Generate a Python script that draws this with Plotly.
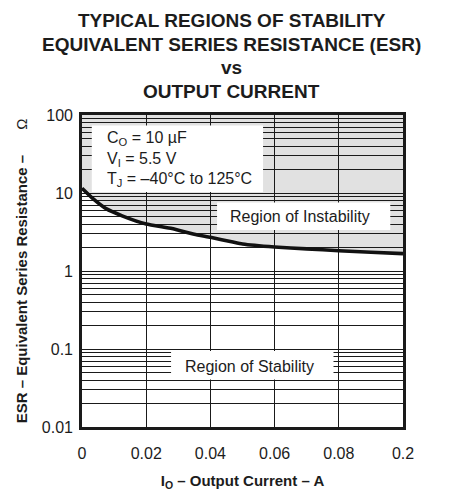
import plotly.graph_objects as go

# ---- data ----
current_a = [0.0, 0.0035, 0.0075, 0.0125, 0.02, 0.028, 0.035, 0.04, 0.047, 0.05,
             0.06, 0.07, 0.08, 0.09, 0.1]
esr_ohm = [11.5, 8.4, 6.3, 5.1, 4.0, 3.5, 2.95, 2.7, 2.35, 2.22,
           2.03, 1.92, 1.82, 1.74, 1.67]
esr_top = 100

x_tickvals = [0, 0.02, 0.04, 0.06, 0.08, 0.1]
x_ticktext = ["0", "0.02", "0.04", "0.06", "0.08", "0.2"]
y_tickvals = [0.01, 0.1, 1, 10, 100]
y_ticktext = ["0.01", "0.1", "1", "10", "100"]
y_minor = [m * 10.0 ** d for d in (-2, -1, 0, 1) for m in range(2, 10)]

title_lines = ["TYPICAL REGIONS OF STABILITY",
               "EQUIVALENT SERIES RESISTANCE (ESR)",
               "vs",
               "OUTPUT CURRENT"]
cond_lines = ["C<sub>O</sub> = 10 µF", "V<sub>I</sub> = 5.5 V",
              "T<sub>J</sub> = –40°C to 125°C"]

FONT = "Liberation Sans, Arial, sans-serif"
INK = "#1c1c1c"

# the page body has an 8px margin, so the figure is drawn 8px in from the corner
OFF = 8
FIG_W, FIG_H = 456 - OFF, 500 - OFF
# plot-area geometry in page pixels
L, R, T, B = 75, 403, 115, 443
W, H = R - L, B - T


def px(x):
    return (x - L) / W


def py(y):
    return (B - y) / H


fig = go.Figure()

# shaded region of instability (below the grid)
path = "M {},{} ".format(current_a[0], esr_top)
path += " ".join("L {},{}".format(x, y) for x, y in zip(current_a, esr_ohm))
path += " L {},{} Z".format(current_a[-1], esr_top)
fig.add_shape(type="path", path=path, xref="x", yref="y", layer="below",
              fillcolor="#e1e1e1", line=dict(width=0))

fig.add_trace(go.Scatter(x=current_a, y=esr_ohm, mode="lines",
                         line=dict(color="#111111", width=3.6, shape="spline", smoothing=0.4),
                         hoverinfo="skip", showlegend=False))

# white text boxes
for x0, x1, y0, y1 in [(85, 260, 126, 196), (213, 390, 207, 236), (166, 332, 363, 393)]:
    fig.add_shape(type="rect", xref="paper", yref="paper",
                  x0=px(x0), x1=px(x1), y0=py(y1), y1=py(y0),
                  fillcolor="white", line=dict(width=0), layer="above")

for txt, yc in zip(cond_lines, [140, 162, 183]):
    fig.add_annotation(text=txt, xref="paper", yref="paper", x=px(98), y=py(yc),
                       xanchor="left", yanchor="middle", showarrow=False,
                       font=dict(family=FONT, size=16, color=INK))

fig.add_annotation(text="Region of Instability", xref="paper", yref="paper",
                   x=px(298), y=py(222), xanchor="center", yanchor="middle",
                   showarrow=False, font=dict(family=FONT, size=16, color=INK))
fig.add_annotation(text="Region of Stability", xref="paper", yref="paper",
                   x=px(246), y=py(379), xanchor="center", yanchor="middle",
                   showarrow=False, font=dict(family=FONT, size=16, color=INK))

for txt, yc in zip(title_lines, [16, 41, 65, 90]):
    fig.add_annotation(text="<b>" + txt + "</b>", xref="paper", yref="paper",
                       x=px(228), y=py(yc), xanchor="center", yanchor="middle",
                       showarrow=False, font=dict(family=FONT, size=19, color=INK))

grid = dict(showgrid=True, gridcolor="#1a1a1a", gridwidth=1)

fig.update_xaxes(range=[0, 0.1], tickmode="array", tickvals=x_tickvals, ticktext=x_ticktext,
                 showline=True, mirror=True, linecolor="#1a1a1a", linewidth=2.6,
                 ticks="", ticklabelstandoff=10, zeroline=False,
                 tickfont=dict(family=FONT, size=16, color=INK),
                 title=dict(text="<b>I<sub>O</sub> – Output Current – A</b>", standoff=15,
                            font=dict(family=FONT, size=15, color=INK)),
                 **grid)
fig.update_yaxes(type="log", range=[-2, 2], tickmode="array", tickvals=y_tickvals,
                 ticktext=y_ticktext,
                 showline=True, mirror=True, linecolor="#1a1a1a", linewidth=2.6,
                 ticks="", ticklabelstandoff=3, zeroline=False,
                 tickfont=dict(family=FONT, size=16, color=INK),
                 minor=dict(tickmode="array", tickvals=y_minor, showgrid=True,
                            gridcolor="#1a1a1a", gridwidth=1, ticks=""),
                 title=dict(text="<b>ESR – Equivalent Series Resistance –</b>"
                                 + "\u00a0" * 6 + "Ω",
                            standoff=11, font=dict(family=FONT, size=15, color=INK)),
                 **grid)

fig.update_layout(width=FIG_W, height=FIG_H,
                  margin=dict(l=L - OFF, r=FIG_W - (R - OFF), t=T - OFF, b=FIG_H - (B - OFF)),
                  plot_bgcolor="white", paper_bgcolor="white", showlegend=False)

fig.write_html("out.html")
